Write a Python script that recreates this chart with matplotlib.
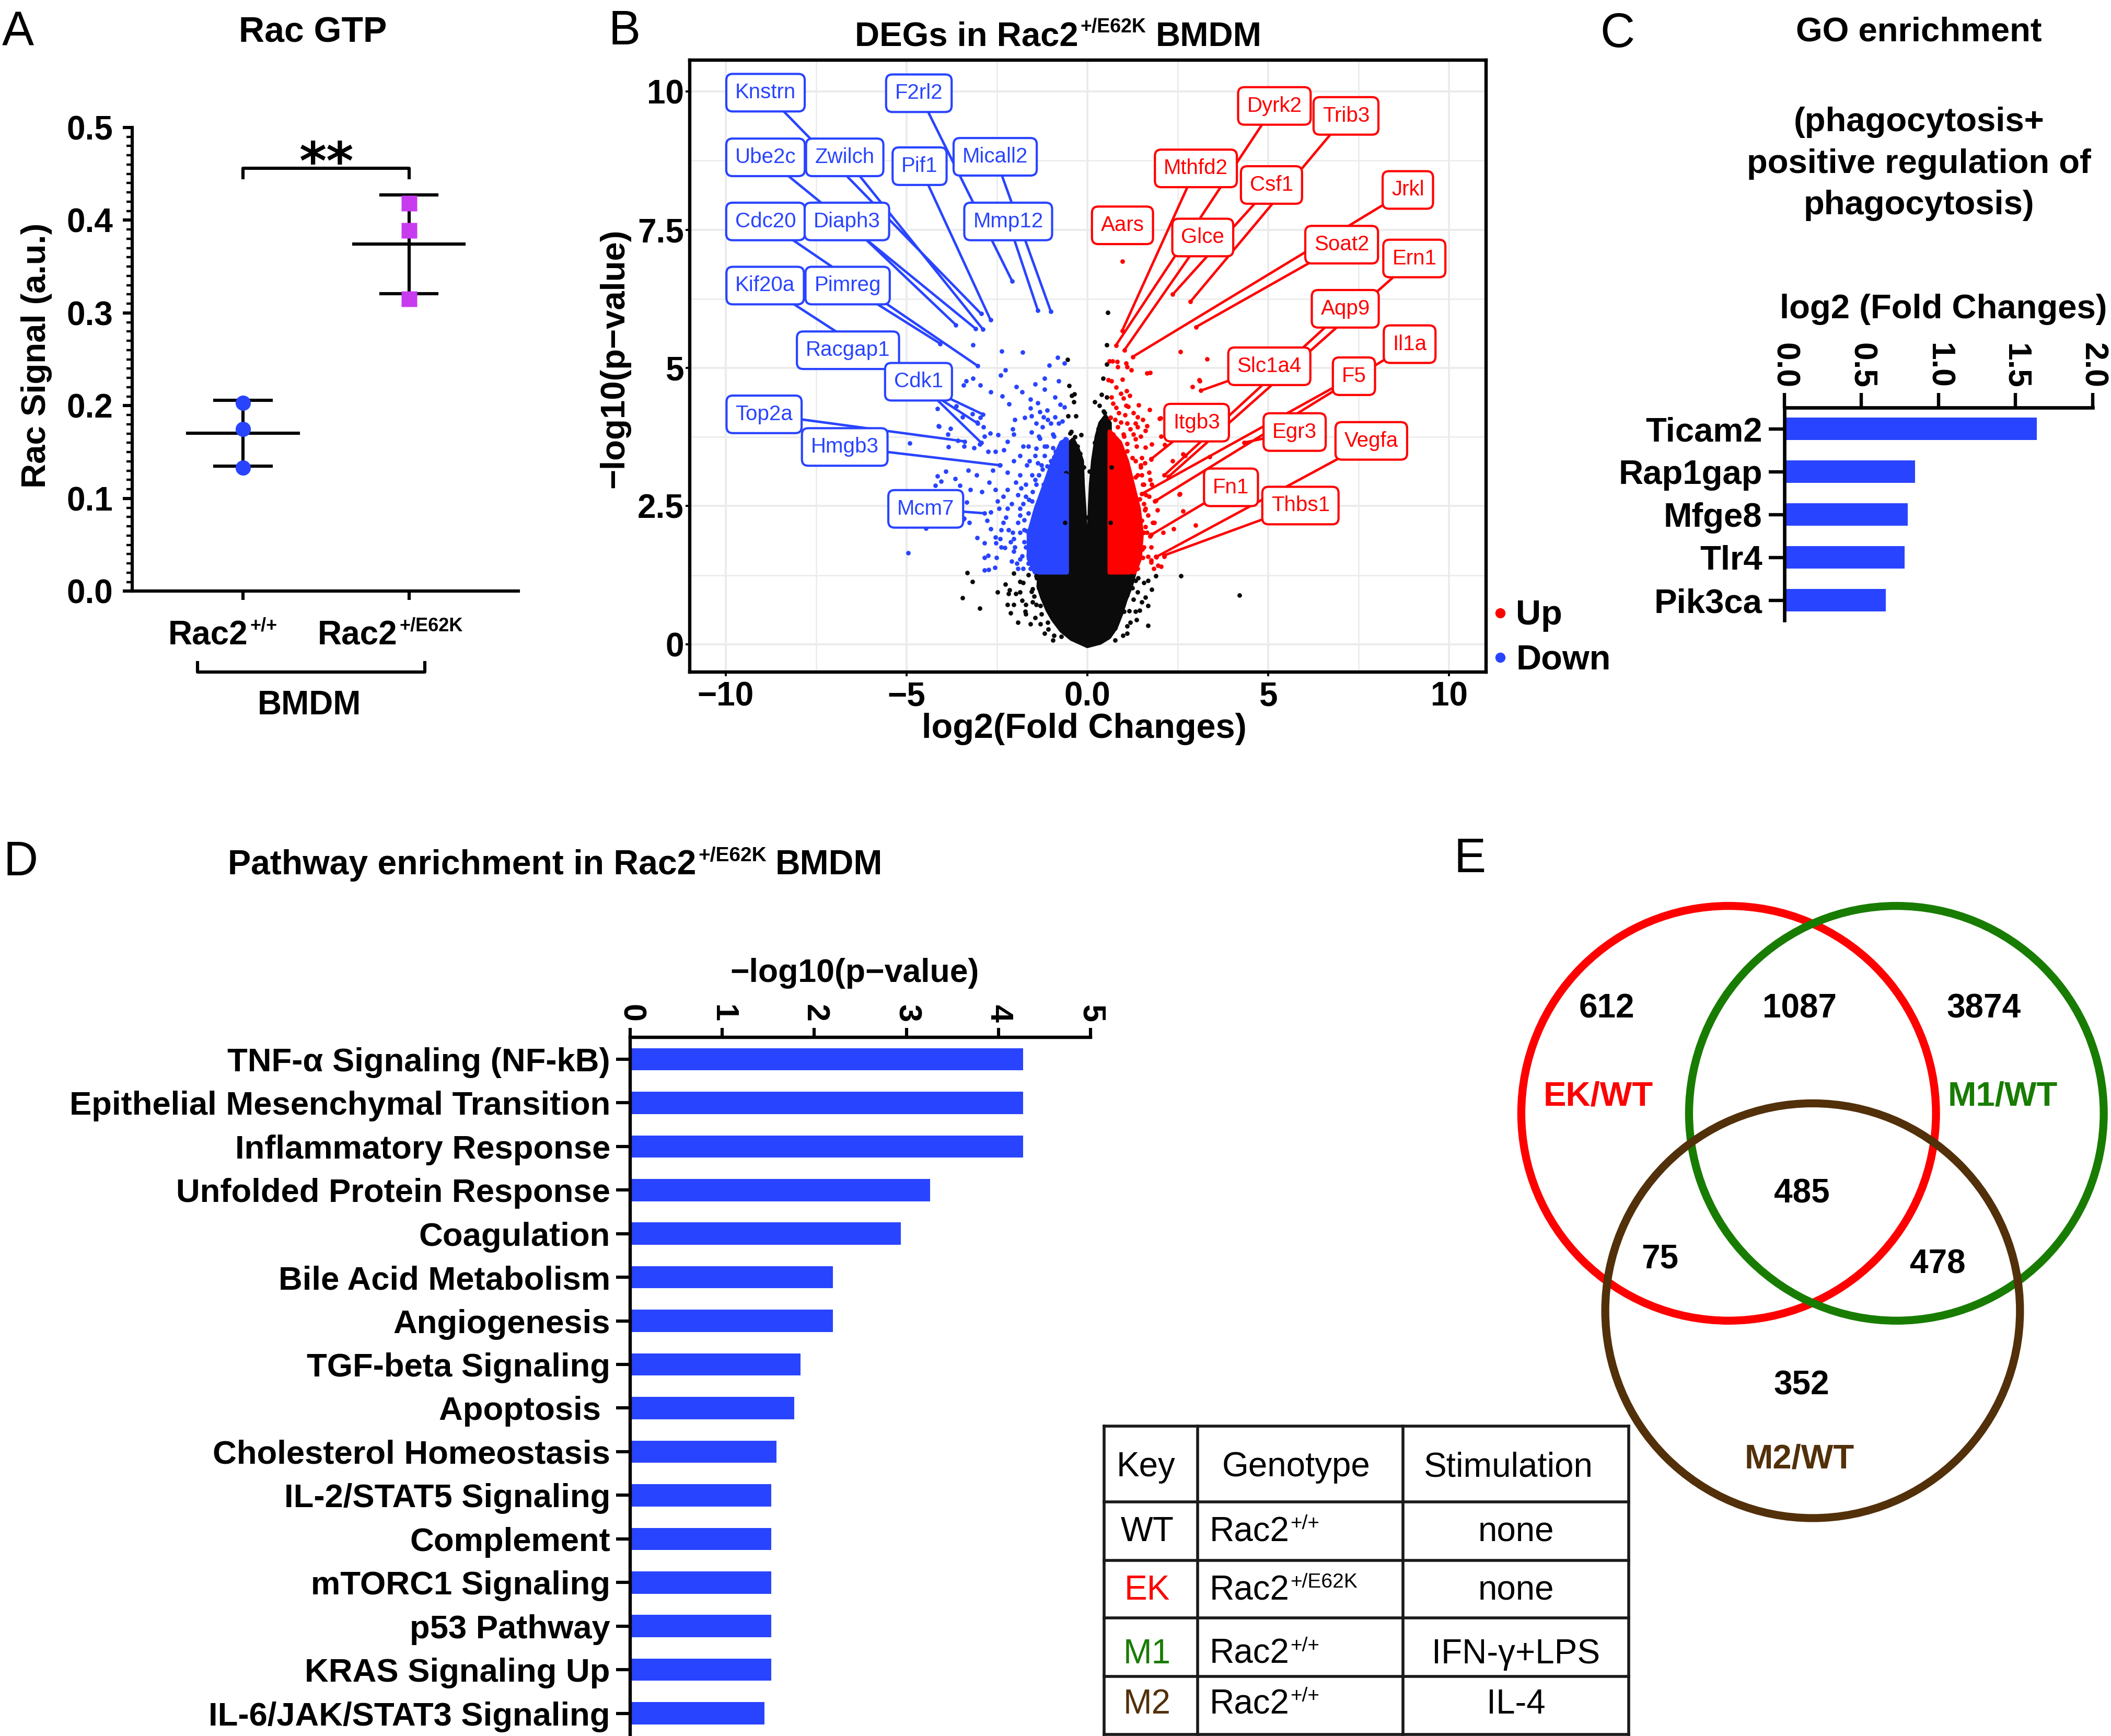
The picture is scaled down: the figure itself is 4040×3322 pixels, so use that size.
import matplotlib
matplotlib.use("Agg")
import matplotlib.pyplot as plt
import numpy as np
from matplotlib.patches import Circle
from matplotlib.ticker import MultipleLocator

plt.rcParams['font.family'] = ['Liberation Sans', 'DejaVu Sans']

BLUE = '#2944ff'
PINK = '#c83cf0'
RED = '#ff0000'
GREEN = '#187c00'
BROWN = '#52300a'
NS = '#0b0b0b'

# ============================================================
# Data
# ============================================================
# A: Rac-GTP signal, three replicates per genotype
rac_sups = ['+/+', '+/E62K']
wt_signal = [0.203, 0.175, 0.133]
ek_signal = [0.418, 0.389, 0.315]

# B: volcano plot (log2FC, -log10 p)
down_x = [-3.16, -2.37, -1.79, -0.83, -0.64, -1.06, -2.27, -2.40, -3.17, -2.96, -3.35, -3.42, -3.89, -1.97,
          -1.45, -1.19, -0.79, -1.19, -1.81, -2.67, -2.36, -0.90, -1.58, -2.17, -1.38, -0.75, -0.64, -1.58,
          -1.11, -1.31, -1.54, -1.74, -2.01, -1.21, -0.90, -1.10, -1.41, -1.01, -0.79, -0.70, -2.07, -1.55,
          -1.25, -2.04, -0.93, -1.32, -0.61, -2.21, -2.47, -2.69, -2.84, -2.88, -3.05, -2.96, -3.18, -3.46,
          -3.63, -4.12, -3.79, -3.86, -3.58, -3.41, -3.13, -2.98, -2.75, -2.55, -2.31, -1.78, -1.64, -1.41,
          -1.13, -0.95, -0.73, -1.87, -1.44, -1.18, -0.93, -0.67, -2.04, -1.67, -1.38, -1.24, -1.04, -0.78,
          -0.61, -2.21, -2.41, -2.61, -2.72, -3.06, -3.29, -3.66, -3.92, -4.15, -3.52, -3.24, -2.92, -2.55,
          -2.32, -1.98, -1.84, -1.70, -1.52, -1.21, -0.90, -0.70, -2.09, -1.87, -2.44, -2.67, -2.78, -3.41,
          -3.26, -2.67, -2.38, -2.18, -2.04, -1.87, -1.75, -3.05, -2.85, -2.41, -2.75, -2.52, -2.85, -2.56,
          -2.09, -1.95, -1.78, -2.04, -1.64, -1.50, -1.64, -4.15, -4.10, -4.91, -3.85, -4.05, -4.20, -3.54,
          -3.34, -4.47, -4.96, -3.44, -2.84, -2.73, -2.53, -1.75, -1.62, -1.45, -1.12, -0.88, -1.92, -1.80,
          -1.68, -2.25, -2.28, -2.07, -2.01, -1.92, -1.87, -1.78, -1.75, -1.70, -1.64, -1.58, -1.53, -1.50,
          -1.47, -1.41, -1.35, -1.27, -1.18, -1.10, -1.01, -0.90, -0.81, -0.73, -0.67, -0.61, -1.87, -1.70,
          -2.21, -2.32, -2.12, -1.92, -2.38, -2.55, -2.49, -2.21, -1.87, -1.53, -1.61, -1.18, -0.95, -1.35]
down_y = [5.42, 5.30, 5.28, 5.19, 5.09, 5.05, 4.96, 4.87, 4.81, 4.69, 4.76, 4.69, 4.84, 4.66,
          4.71, 4.81, 4.76, 4.61, 4.57, 4.57, 4.49, 4.47, 4.43, 4.35, 4.37, 4.34, 4.29, 4.27,
          4.23, 4.21, 4.13, 4.10, 4.06, 4.11, 4.11, 4.06, 4.00, 4.00, 4.00, 4.04, 3.89, 3.84,
          3.93, 3.80, 3.76, 3.72, 3.71, 3.67, 3.79, 3.82, 3.76, 3.93, 4.02, 4.10, 4.17, 4.11,
          4.31, 3.95, 3.90, 3.80, 3.69, 3.58, 3.55, 3.62, 3.49, 3.49, 3.52, 3.58, 3.58, 3.54,
          3.58, 3.55, 3.58, 3.41, 3.41, 3.41, 3.38, 3.37, 3.32, 3.24, 3.28, 3.17, 3.13, 3.15,
          3.06, 3.11, 3.24, 3.15, 2.93, 3.06, 3.15, 3.00, 3.13, 3.04, 2.87, 2.80, 2.76, 2.80,
          2.67, 2.93, 2.83, 2.89, 2.76, 2.89, 2.85, 2.80, 2.54, 2.46, 2.46, 2.39, 2.24, 2.28,
          2.20, 2.09, 2.07, 2.07, 1.91, 2.02, 1.85, 1.93, 1.83, 1.91, 1.61, 1.57, 1.34, 1.39,
          1.50, 1.46, 1.37, 1.68, 1.61, 1.50, 1.46, 4.26, 3.94, 3.64, 3.57, 2.95, 2.87, 2.74,
          2.57, 2.10, 1.65, 2.26, 1.57, 1.35, 1.83, 2.25, 2.62, 2.98, 3.22, 3.49, 2.70, 1.60,
          2.05, 2.30, 1.75, 2.02, 1.76, 2.20, 1.54, 2.54, 2.07, 1.76, 2.37, 1.37, 2.59, 2.20,
          1.76, 2.89, 3.06, 3.24, 2.63, 2.98, 3.32, 3.06, 3.50, 3.24, 3.67, 3.41, 2.33, 2.67,
          2.46, 2.20, 1.85, 1.37, 1.76, 1.94, 2.59, 2.80, 3.06, 3.06, 3.32, 3.58, 3.80, 3.76]

up_x = [2.57, 3.31, 1.64, 1.74, 0.60, 0.69, 0.82, 0.84, 1.07, 1.10, 1.21, 0.58, 0.66, 0.96,
        1.09, 1.17, 0.79, 0.92, 0.99, 2.91, 3.10, 1.41, 1.72, 2.00, 2.04, 2.14, 0.67, 0.70,
        0.79, 0.87, 1.04, 1.13, 1.27, 1.39, 0.93, 1.10, 1.33, 1.53, 1.64, 1.60, 1.47, 1.27,
        0.99, 0.76, 1.10, 1.36, 1.61, 1.77, 1.76, 1.50, 1.33, 1.59, 1.70, 1.50, 1.33, 1.53,
        1.73, 1.78, 2.55, 1.89, 1.56, 1.59, 1.67, 1.93, 1.44, 1.61, 1.56, 1.73, 1.44, 2.10,
        2.38, 2.99, 1.89, 1.76, 2.04, 2.13, 1.33, 1.53, 2.70, 2.64, 2.36, 3.38, 4.35, 2.25,
        3.09, 2.02, 2.28, 2.65, 2.54, 1.76, 1.95, 1.48, 1.62, 1.85, 1.52, 1.39, 1.44, 1.56,
        1.64, 1.50, 1.61, 1.70, 1.44, 1.56, 1.39, 1.47, 1.24, 1.10, 0.93, 0.76, 0.70, 0.84,
        1.01, 1.18, 1.33, 0.64, 0.76, 1.07, 1.39, 1.67, 1.76, 1.81, 1.84, 1.34]
up_y = [5.29, 5.16, 4.91, 4.92, 5.12, 5.12, 5.11, 5.02, 5.09, 5.02, 4.96, 4.78, 4.76, 4.79,
        4.58, 4.50, 4.65, 4.54, 4.45, 4.66, 4.76, 4.33, 4.24, 4.08, 3.76, 3.61, 4.47, 4.36,
        4.28, 4.19, 4.15, 4.30, 4.19, 4.11, 4.02, 4.00, 4.00, 4.06, 3.95, 3.87, 3.76, 3.80,
        3.80, 3.71, 3.63, 3.58, 3.56, 3.62, 3.36, 3.37, 3.32, 3.28, 3.11, 3.06, 3.02, 2.89,
        2.98, 2.89, 2.72, 2.60, 2.54, 2.43, 2.33, 2.43, 2.24, 2.13, 2.02, 1.96, 1.85, 2.02,
        2.09, 2.15, 1.59, 1.52, 1.41, 1.59, 1.68, 1.57, 3.41, 2.41, 3.32, 3.39, 3.65, 3.02,
        4.78, 4.09, 4.19, 3.44, 2.71, 1.48, 1.43, 3.20, 2.70, 2.20, 1.72, 1.37, 1.59, 1.76,
        2.02, 2.24, 2.46, 2.67, 2.63, 2.89, 3.06, 3.24, 3.37, 3.50, 3.58, 3.50, 3.80, 3.93,
        3.76, 3.89, 3.71, 4.10, 4.06, 4.32, 3.93, 1.59, 1.76, 2.20, 1.37, 1.98]

ns_x = [0.56, 0.54, 0.54, -0.55, 0.43, -0.51, -0.44, -0.38, -0.36, 0.39, 0.54, 0.20, 0.33, 0.47,
        -0.53, -0.32, -0.17, -0.28, 0.05, 0.13, -3.32, -3.18, -3.45, -2.98, -2.49, -2.27, -2.18,
        -2.21, -2.12, -2.04, -1.92, -1.87, -1.98, -1.81, -1.70, -1.72, -1.58, -1.64, -1.52, -1.47,
        -1.41, -1.44, -1.27, -1.10, -1.08, -0.93, -0.73, 1.33, 1.56, 1.78, 1.89, 2.58, 1.67, 1.67,
        1.36, 1.44, 1.27, 1.19, 1.10, 4.21, 1.10, 1.24, 0.93, 0.87, 0.76, -0.45, 0.30, -0.20,
        0.08, -0.05, 1.40, -1.40, -1.55, -1.30, 1.15, -1.21, -1.35, -1.52, -1.70, -1.30, -1.18,
        -0.95, -1.87, -2.04, -2.15, -1.78, -1.41, 1.21, 1.39, 1.50, 1.33, 1.10, 0.98, 0.76, 1.67,
        1.61, 1.01, -0.62, -0.60, -0.48, -0.35, 0.20, 0.45, 0.63, 0.66, 0.64, -0.10, -0.02, 0.02]
ns_y = [6.00, 5.42, 5.07, 5.15, 4.81, 4.68, 4.50, 4.39, 4.53, 4.52, 4.47, 4.39, 4.32, 4.19,
        4.13, 4.13, 3.79, 3.58, 3.13, 3.06, 1.29, 1.13, 0.84, 0.65, 0.94, 1.09, 0.92,
        0.72, 0.57, 1.28, 0.40, 1.13, 0.92, 0.79, 0.72, 0.59, 0.37, 1.26, 1.00, 0.87,
        0.72, 0.48, 0.55, 0.40, 0.27, 0.16, 0.14, 1.15, 1.11, 0.99, 1.24, 1.24, 0.70, 0.34,
        0.44, 0.61, 0.81, 0.40, 0.20, 0.89, 0.89, 1.02, 0.72, 0.50, 0.29, 3.85, 3.90, 3.45,
        2.70, 2.30, 1.20, 1.20, 0.95, 0.70, 0.60, 1.20, 1.02, 0.76, 0.55, 0.37, 0.20,
        0.07, 0.94, 0.72, 0.98, 1.11, 1.24, 1.24, 0.94, 0.76, 0.59, 0.33, 0.16, 0.07, 1.15,
        0.85, 0.59, 2.20, 3.10, 3.82, 3.75, 3.65, 4.22, 4.10, 3.20, 2.20, 3.20, 2.10, 2.30]

# outlines of the solid (over-plotted) cores of the point cloud
ns_core_x = [0.00, -0.44, -0.72, -0.95, -1.10, -1.25, -1.35, -1.32, -0.57, -0.57, -0.52, -0.40, -0.28,
             -0.155, -0.13, -0.09, -0.05, -0.03, 0.00, 0.04, 0.07, 0.10, 0.16, 0.26, 0.36, 0.50, 0.615,
             0.615, 1.30, 1.20, 1.05, 0.93, 0.78, 0.60, 0.35]
ns_core_y = [-0.03, 0.10, 0.25, 0.45, 0.62, 0.85, 1.05, 1.30, 1.30, 3.40, 3.62, 3.70, 3.55,
             3.32, 2.89, 2.46, 2.00, 1.80, 1.70, 1.80, 2.46, 2.89, 3.32, 3.76, 4.00, 4.12, 4.00,
             1.30, 1.30, 1.05, 0.80, 0.55, 0.30, 0.13, 0.03]
down_core_x = [-0.57, -1.45, -1.62, -1.62, -1.42, -1.18, -0.95, -0.72, -0.57]
down_core_y = [1.30, 1.30, 1.55, 2.00, 2.46, 2.89, 3.32, 3.65, 3.70]
up_core_x = [0.615, 1.30, 1.45, 1.50, 1.42, 1.25, 1.10, 0.90, 0.615]
up_core_y = [1.30, 1.30, 1.55, 2.00, 2.45, 2.90, 3.30, 3.65, 3.85]

down_genes = ['Knstrn', 'Ube2c', 'Zwilch', 'Cdc20', 'Diaph3', 'Kif20a', 'Pimreg', 'Racgap1',
              'Cdk1', 'Top2a', 'Hmgb3', 'Mcm7', 'F2rl2', 'Pif1', 'Micall2', 'Mmp12']
down_gene_x = [-2.94, -3.09, -2.89, -3.04, -3.64, -3.04, -4.07, -2.89,
               -2.94, -3.39, -2.43, -2.84, -2.08, -2.68, -1.01, -1.37]
down_gene_y = [5.98, 5.71, 5.70, 5.04, 5.78, 4.00, 5.44, 4.16,
               3.65, 3.67, 3.24, 2.37, 6.57, 5.87, 6.02, 6.04]
up_genes = ['Dyrk2', 'Trib3', 'Mthfd2', 'Csf1', 'Jrkl', 'Aars', 'Glce', 'Soat2', 'Ern1',
            'Aqp9', 'Il1a', 'Slc1a4', 'F5', 'Itgb3', 'Egr3', 'Vegfa', 'Fn1', 'Thbs1']
up_gene_x = [0.79, 2.85, 0.96, 2.36, 1.25, 0.96, 1.02, 3.00, 2.24,
             2.13, 1.87, 3.14, 1.50, 1.76, 4.34, 1.90, 1.76, 2.13]
up_gene_y = [5.41, 6.20, 5.67, 6.33, 5.20, 6.93, 5.32, 5.74, 3.03,
             3.06, 2.59, 4.59, 2.72, 3.35, 3.65, 1.58, 1.98, 1.61]

# C: GO enrichment genes
go_genes = ['Ticam2', 'Rap1gap', 'Mfge8', 'Tlr4', 'Pik3ca']
go_lfc = [1.64, 0.85, 0.80, 0.78, 0.66]

# D: pathway enrichment
pathways = ['TNF-α Signaling (NF-kB)', 'Epithelial Mesenchymal Transition', 'Inflammatory Response',
            'Unfolded Protein Response', 'Coagulation', 'Bile Acid Metabolism', 'Angiogenesis',
            'TGF-beta Signaling', 'Apoptosis ', 'Cholesterol Homeostasis', 'IL-2/STAT5 Signaling',
            'Complement', 'mTORC1 Signaling', 'p53 Pathway', 'KRAS Signaling Up',
            'IL-6/JAK/STAT3 Signaling']
pathway_logp = [4.27, 4.27, 4.27, 3.26, 2.94, 2.20, 2.20, 1.85, 1.78, 1.59, 1.53,
                1.53, 1.53, 1.53, 1.53, 1.46]

# E: Venn counts and key table
venn_sets = ['EK/WT', 'M1/WT', 'M2/WT']
venn_counts = [612, 1087, 3874, 485, 75, 478, 352]
key_names = ['WT', 'EK', 'M1', 'M2']
key_sups = ['+/+', '+/E62K', '+/+', '+/+']
key_stim = ['none', 'none', 'IFN-γ+LPS', 'IL-4']

# ============================================================
# Figure / layout helpers (layout grid in reference pixels)
# ============================================================
W, H = 1568.0, 1289.0
fig = plt.figure(figsize=(20.2, 16.61), dpi=200)


def frame(l, t, r, b):
    return fig.add_axes([l / W, 1 - b / H, (r - l) / W, (b - t) / H])


lay = fig.add_axes([0, 0, 1, 1])
lay.set_xlim(0, W)
lay.set_ylim(H, 0)
lay.axis('off')
lay.set_zorder(10)


def rich(x, y, parts, ha='center', color='black', weight='bold'):
    # parts: (text, size, rise, gap) -> baseline-aligned pieces (for superscripts)
    r = fig.canvas.get_renderer()
    pieces = []
    for s, size, rise, gap in parts:
        t = lay.text(0, 0, s, fontsize=size, fontweight=weight, color=color,
                     ha='left', va='baseline')
        w = t.get_window_extent(r).width / fig.bbox.width * W
        pieces.append((t, w, rise, gap))
    total = sum(w + g for _, w, _, g in pieces)
    x0 = {'left': x, 'center': x - total / 2, 'right': x - total}[ha]
    for t, w, rise, gap in pieces:
        x0 += gap
        t.set_position((x0, y - rise))
        x0 += w


for letter, lx, ly in [('A', 1.4, 34), ('B', 451.8, 33), ('C', 1188.6, 35), ('D', 2.7, 650), ('E', 1080, 647.5)]:
    lay.text(lx, ly, letter, fontsize=33, va='baseline', ha='left')

# ============================================================
# A. Rac GTP
# ============================================================
axA = frame(98, 94.6, 385, 439)
for xpos, vals, mk, col in [(1, wt_signal, 'o', BLUE), (2, ek_signal, 's', PINK)]:
    m = np.mean(vals)
    sd = np.std(vals, ddof=1)
    axA.plot([xpos, xpos], [m - sd, m + sd], color='black', lw=2.2, zorder=2)
    axA.plot([xpos - 0.17, xpos + 0.17], [m + sd] * 2, color='black', lw=2.2, zorder=2)
    axA.plot([xpos - 0.17, xpos + 0.17], [m - sd] * 2, color='black', lw=2.2, zorder=2)
    axA.plot([xpos - 0.333, xpos + 0.333], [m, m], color='black', lw=2.2, zorder=2)
    axA.plot([xpos] * len(vals), vals, mk, ms=10.5, color=col, mec='none', zorder=3)

axA.set_xlim(0.33, 2.66)
axA.set_ylim(0, 0.5)
axA.set_yticks(np.arange(0, 0.51, 0.1))
axA.set_yticklabels([f'{v:.1f}' for v in np.arange(0, 0.51, 0.1)], fontsize=23, fontweight='bold')
axA.yaxis.set_minor_locator(MultipleLocator(0.01))
axA.set_xticks([1, 2])
axA.set_xticklabels(['', ''])
axA.tick_params(axis='y', which='major', length=6.5, width=2.2, pad=6.5)
axA.tick_params(axis='y', which='minor', length=4, width=1.6)
axA.tick_params(axis='x', length=6, width=2.2)
for s in ['top', 'right']:
    axA.spines[s].set_visible(False)
for s in ['left', 'bottom']:
    axA.spines[s].set_linewidth(2.2)
axA.patch.set_alpha(0)

axA.plot([1, 1, 2, 2], [0.446, 0.456, 0.456, 0.446], color='black', lw=2.2, clip_on=False)
axA.text(1.5, 0.444, '**', ha='center', va='baseline', fontsize=36, fontweight='bold',
         family='DejaVu Sans', clip_on=False)

lay.text(232.4, 31.4, 'Rac GTP', fontsize=24.5, fontweight='bold', ha='center', va='baseline')
lay.text(27, 264, 'Rac Signal (a.u.)', rotation=90, fontsize=23.5, fontweight='bold', ha='center', va='center')
for cx, sup in zip([165.4, 289.9], rac_sups):
    rich(cx, 478.6, [('Rac2', 23, 0, 0), (sup, 13, 10, 1.5)])
lay.plot([146.8, 146.8, 315.6, 315.6], [492, 499, 499, 492], color='black', lw=2.2)
lay.text(229.7, 530.4, 'BMDM', fontsize=23, fontweight='bold', ha='center', va='baseline')

# ============================================================
# B. Volcano
# ============================================================
axB = frame(512.2, 44.6, 1104, 498.9)
axB.fill(ns_core_x, ns_core_y, color=NS, ec=NS, lw=3, joinstyle='round', zorder=2)
axB.fill(down_core_x, down_core_y, color=BLUE, ec=BLUE, lw=3, joinstyle='round', zorder=2)
axB.fill(up_core_x, up_core_y, color=RED, ec=RED, lw=3, joinstyle='round', zorder=2)
axB.scatter(ns_x, ns_y, s=10, color=NS, lw=0, zorder=2.5)
axB.scatter(down_x, down_y, s=10, color=BLUE, lw=0, zorder=2.5)
axB.scatter(up_x, up_y, s=10, color=RED, lw=0, zorder=2.5)

# label placement (as repelled in the reference)
down_lab_x = [-8.90, -8.90, -6.71, -8.90, -6.65, -8.91, -6.63, -6.62,
              -4.67, -8.94, -6.71, -4.47, -4.66, -4.64, -2.55, -2.19]
down_lab_y = [9.98, 8.81, 8.81, 7.65, 7.65, 6.49, 6.49, 5.32,
              4.75, 4.16, 3.57, 2.45, 9.97, 8.65, 8.82, 7.65]
up_lab_x = [5.17, 7.15, 3.00, 5.09, 8.86, 0.97, 3.19, 7.03, 9.04,
            7.13, 8.91, 5.03, 7.37, 3.02, 5.73, 7.85, 3.97, 5.89]
up_lab_y = [9.74, 9.56, 8.61, 8.31, 8.22, 7.58, 7.36, 7.23, 6.98,
            6.07, 5.43, 5.03, 4.85, 4.01, 3.84, 3.68, 2.84, 2.51]

for genes, gx, gy, tx, ty, col in [(down_genes, down_gene_x, down_gene_y, down_lab_x, down_lab_y, BLUE),
                                   (up_genes, up_gene_x, up_gene_y, up_lab_x, up_lab_y, RED)]:
    axB.scatter(gx, gy, s=10, color=col, lw=0, zorder=4)
    for g, px, py, lx, ly in zip(genes, gx, gy, tx, ty):
        if np.hypot(lx - px, ly - py) > 1.0:
            axB.plot([lx, px], [ly, py], color=col, lw=1.7, zorder=4)
        axB.text(lx, ly, g, ha='center', va='center', fontsize=14.5, color=col, zorder=5,
                 bbox=dict(boxstyle='round,pad=0.42,rounding_size=0.3', fc='white', ec=col, lw=1.5))

axB.set_xlim(-11, 11.03)
axB.set_ylim(-0.5, 10.57)
axB.set_xticks([-10, -5, 0, 5, 10])
axB.set_xticklabels(['−10', '−5', '0.0', '5', '10'], fontsize=23, fontweight='bold')
axB.set_xticks([-7.5, -2.5, 2.5, 7.5], minor=True)
axB.set_yticks([0, 2.5, 5, 7.5, 10])
axB.set_yticklabels(['0', '2.5', '5', '7.5', '10'], fontsize=23, fontweight='bold')
axB.set_yticks([1.25, 3.75, 6.25, 8.75], minor=True)
axB.grid(which='major', color='#ebebeb', lw=1.4)
axB.grid(which='minor', color='#ebebeb', lw=0.9)
axB.set_axisbelow(True)
axB.tick_params(which='minor', length=0)
axB.tick_params(axis='x', which='major', length=3, width=1.4, pad=3.5)
axB.tick_params(axis='y', which='major', length=3, width=1.4, pad=1)
for s in axB.spines.values():
    s.set_linewidth(2.3)

rich(786, 34, [('DEGs in Rac2', 23.5, 0, 0), ('+/E62K', 13.5, 10, 1.5), ('BMDM', 23.5, 0, 7)])
lay.text(456.4, 266, '−log10(p−value)', rotation=90, fontsize=23.5, fontweight='bold', ha='center', va='center')
lay.text(805.5, 548, 'log2(Fold Changes)', fontsize=24, fontweight='bold', ha='center', va='baseline')
lay.plot(1114.4, 455.3, 'o', color=RED, ms=7, mec='none')
lay.plot(1114.4, 488.2, 'o', color=BLUE, ms=7, mec='none')
lay.text(1126, 463.6, 'Up', fontsize=24, fontweight='bold', va='baseline')
lay.text(1126, 497, 'Down', fontsize=24, fontweight='bold', va='baseline')

# ============================================================
# C. GO enrichment
# ============================================================
axC = frame(1325.3, 302.5, 1554.3, 460.7)
posC = np.arange(len(go_genes))
axC.barh(posC, go_lfc, height=0.53, color=BLUE)
axC.set_xlim(0, 2)
axC.set_ylim(4.47, -0.5)
axC.xaxis.tick_top()
axC.set_xticks([0, 0.5, 1, 1.5, 2])
axC.set_xticklabels(['0.0', '0.5', '1.0', '1.5', '2.0'], rotation=-90, fontsize=22.5, fontweight='bold')
axC.set_yticks(posC)
axC.set_yticklabels(go_genes, fontsize=23.5, fontweight='bold')
axC.tick_params(axis='x', length=10, width=2.3, pad=3)
axC.tick_params(axis='y', length=10.8, width=2.3, pad=4.3)
for s in ['bottom', 'right']:
    axC.spines[s].set_visible(False)
for s in ['top', 'left']:
    axC.spines[s].set_linewidth(2.4)

lay.text(1425.3, 30.6, 'GO enrichment', fontsize=23.5, fontweight='bold', ha='center', va='baseline')
for txt, yb in [('(phagocytosis+', 97.3), ('positive regulation of', 128.6), ('phagocytosis)', 159.2)]:
    lay.text(1425.5, yb, txt, fontsize=23.5, fontweight='bold', ha='center', va='baseline')
lay.text(1443.5, 236.3, 'log2 (Fold Changes)', fontsize=23.5, fontweight='bold', ha='center', va='baseline')

# ============================================================
# D. Pathway enrichment
# ============================================================
axD = frame(468.2, 770.3, 809.9, 1289)
posD = np.arange(len(pathways))
axD.barh(posD, pathway_logp, height=0.51, color=BLUE)
axD.set_xlim(0, 5)
axD.set_ylim(15.52, -0.5)
axD.xaxis.tick_top()
axD.set_xticks(range(6))
axD.set_xticklabels([str(v) for v in range(6)], rotation=-90, fontsize=22, fontweight='bold')
axD.set_yticks(posD)
axD.set_yticklabels(pathways, fontsize=22.8, fontweight='bold')
axD.tick_params(axis='x', length=6.5, width=2.2, pad=4)
axD.tick_params(axis='y', length=9.8, width=2.2, pad=4)
for s in ['bottom', 'right']:
    axD.spines[s].set_visible(False)
for s in ['top', 'left']:
    axD.spines[s].set_linewidth(2.3)

rich(412.3, 649.1, [('Pathway enrichment in Rac2', 23.8, 0, 0), ('+/E62K', 14, 9.5, 1.5), ('BMDM', 23.8, 0, 6.5)])
lay.text(634.8, 728.9, '−log10(p−value)', fontsize=22.5, fontweight='bold', ha='center', va='baseline')

# ============================================================
# E. Key table
# ============================================================
col_x = [820, 889.7, 1042, 1209.8]
row_y = [1059, 1115, 1158.6, 1201.5, 1244.6, 1288]
for xv in col_x:
    lay.plot([xv, xv], [row_y[0], row_y[-1]], color='#1a1a1a', lw=2)
for yv in row_y:
    lay.plot([col_x[0], col_x[-1]], [yv, yv], color='#1a1a1a', lw=2)

lay.text(829.3, 1096.3, 'Key', fontsize=23.6, va='baseline', ha='left')
lay.text(962.6, 1096.3, 'Genotype', fontsize=23.6, va='baseline', ha='center')
lay.text(1120.5, 1096.3, 'Stimulation', fontsize=23.6, va='baseline', ha='center')
key_colors = ['black', RED, GREEN, BROWN]
for name, sup, stim, kc, yb in zip(key_names, key_sups, key_stim, key_colors, [1144.4, 1187.9, 1235, 1272.5]):
    lay.text(852, yb, name, fontsize=23.6, color=kc, va='baseline', ha='center')
    rich(898.3, yb, [('Rac2', 23.6, 0, 0), (sup, 14, 9, 0.5)], ha='left', weight='normal')
    lay.text(1126, yb, stim, fontsize=23.6, va='baseline', ha='center')

# ============================================================
# E. Venn diagram
# ============================================================
axE = frame(1150, 640, 1568, 1150)
axE.set_xlim(-0.870, 1.844)
axE.set_ylim(-2.100, 1.212)
axE.set_aspect('equal')
axE.axis('off')
centers = [(0, 0), (0.809, 0), (0.405, -0.952)]
set_colors = [RED, GREEN, BROWN]
for (cx, cy), c in zip(centers, set_colors):
    axE.add_patch(Circle((cx, cy), 1.0, fill=False, ec=c, lw=5.5, clip_on=False))

count_pos = [(-0.588, 0.518), (0.342, 0.518), (1.231, 0.518), (0.352, -0.374),
             (-0.331, -0.690), (1.009, -0.715), (0.352, -1.299)]
for n, (px, py) in zip(venn_counts, count_pos):
    axE.text(px, py - 0.057, str(n), fontsize=23, fontweight='bold', ha='center', va='baseline')
set_pos = [(-0.628, 0.094), (1.322, 0.094), (0.342, -1.654)]
for name, (px, py), c in zip(venn_sets, set_pos, set_colors):
    axE.text(px, py - 0.057, name, fontsize=23.5, fontweight='bold', color=c, ha='center', va='baseline')

fig.savefig('out.png', dpi=200)
